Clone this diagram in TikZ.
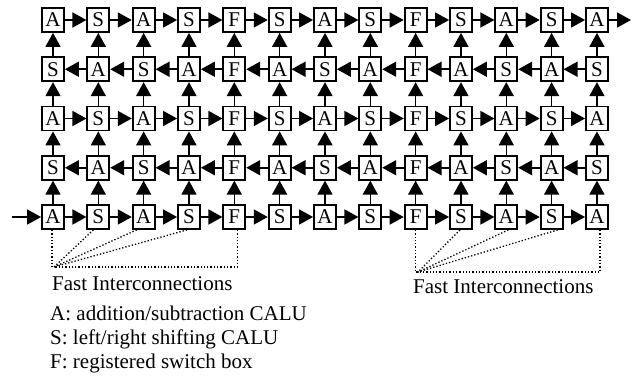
\documentclass[tikz,border=0pt]{standalone}
\usepackage{fontspec}
\setmainfont{Liberation Serif}
\usetikzlibrary{arrows.meta}
\begin{document}
\begin{tikzpicture}[x=1pt,y=-1pt,
 cell/.style={draw,line width=1.8pt,minimum width=22pt,minimum height=24pt,inner sep=0pt,font=\fontsize{21}{21}\selectfont,fill=white},
 link/.style={line width=1.6pt,-{Triangle[length=14pt,width=15pt]}},
 fast/.style={dotted,line width=1.3pt},
 lbl/.style={anchor=base west,inner sep=0pt,font=\fontsize{21}{24}\selectfont}]
\fill[white] (0,0) rectangle (632,377);
\useasboundingbox (0,0) rectangle (632,377);
% cells
\foreach \c/\la/\lb in {1/A/S,2/S/A,3/A/S,4/S/A,5/F/F,6/S/A,7/A/S,8/S/A,9/F/F,10/S/A,11/A/S,12/S/A,13/A/S} {
  \foreach \r in {1,3,5} {\node[cell] (n\r c\c) at ({53+45.33*(\c-1)},{20+49.25*(\r-1)}) {\la};}
  \foreach \r in {2,4} {\node[cell] (n\r c\c) at ({53+45.33*(\c-1)},{20+49.25*(\r-1)}) {\lb};}
}
% horizontal links
\foreach \r in {1,3,5} {
  \foreach \c in {1,...,12} {
    \pgfmathtruncatemacro{\nxcol}{\c+1}
    \draw[link] (n\r c\c) -- (n\r c\nxcol);
  }
}
\foreach \r in {2,4} {
  \foreach \c in {1,...,12} {
    \pgfmathtruncatemacro{\nxcol}{\c+1}
    \draw[link] (n\r c\nxcol) -- (n\r c\c);
  }
}
% vertical links
\foreach \r in {2,...,5} {
  \pgfmathtruncatemacro{\uprow}{\r-1}
  \foreach \c in {1,...,13} {
    \draw[link] (n\r c\c) -- (n\uprow c\c);
  }
}
% input / output
\coordinate (in) at (12,{20+49.25*4});
\coordinate (out) at (631,20);
\draw[link] (in) -- (n5c1);
\draw[link] (n1c13) -- (out);
% fast interconnections, left
\coordinate (hubL) at (54,267);
\draw[fast] ([xshift=-1pt]n5c1.south) -- ([xshift=-1pt]n5c1.south |- hubL);
\draw[fast] ([xshift=3pt]n5c5.south) |- (hubL);
\draw[fast] ([xshift=-5pt]n5c2.south) -- (hubL);
\draw[fast] ([xshift=-7pt]n5c3.south) -- (hubL);
\draw[fast] ([xshift=-2pt]n5c4.south) -- (hubL);
% fast interconnections, right
\coordinate (hubR) at (418,272);
\draw[fast] (n5c9.south) -- (n5c9.south |- hubR);
\draw[fast] ([xshift=3pt]n5c13.south) |- (n5c9.south |- hubR);
\draw[fast] ([xshift=-1pt]n5c10.south) -- (hubR);
\draw[fast] ([xshift=2pt]n5c11.south) -- (hubR);
\draw[fast] ([xshift=6pt]n5c12.south) -- (hubR);
% texts
\node[lbl] (fi1) at (52,290) {Fast Interconnections};
\node[lbl] (fi2) at (413,293) {Fast Interconnections};
\node[lbl] (lA) at (50,320) {A: addition/subtraction CALU};
\node[lbl] (lS) at (50,344) {S: left/right shifting CALU};
\node[lbl] (lF) at (50,368) {F: registered switch box};
\end{tikzpicture}
\end{document}
